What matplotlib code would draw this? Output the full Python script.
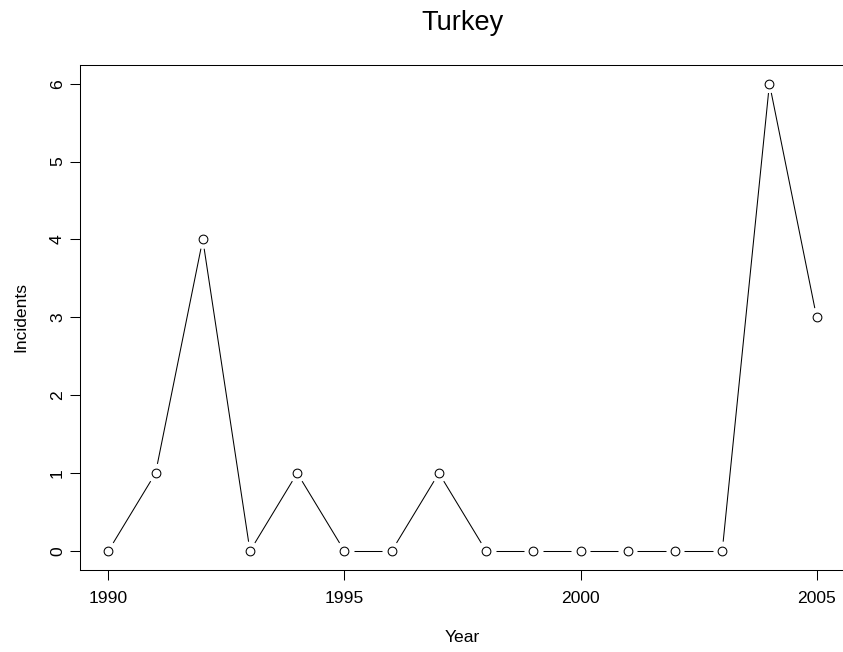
import numpy as np
import matplotlib
matplotlib.use("Agg")
import matplotlib.pyplot as plt
import matplotlib.transforms as mtransforms

plt.rcParams['font.family'] = ['Liberation Sans', 'DejaVu Sans']

# Data to be represented
years = [1990, 1991, 1992, 1993, 1994, 1995, 1996, 1997,
         1998, 1999, 2000, 2001, 2002, 2003, 2004, 2005]
incidents = [0, 1, 4, 0, 1, 0, 0, 1, 0, 0, 0, 0, 0, 0, 6, 3]
x_ticks = [1990, 1995, 2000, 2005]
y_ticks = [0, 1, 2, 3, 4, 5, 6]

W, H, DPI = 843, 652, 100
fig = plt.figure(figsize=(W / DPI, H / DPI), dpi=DPI, facecolor='white')
ax = fig.add_axes([80 / W, 1 - 569.7 / H, 765 / W, 504.7 / H])

# R-like 4% range extension
xr = years[-1] - years[0]
ax.set_xlim(years[0] - 0.04 * xr, years[-1] + 0.04 * xr)
yr = max(incidents) - min(incidents)
ax.set_ylim(min(incidents) - 0.04 * yr, max(incidents) + 0.04 * yr)

# type="b": segments with gaps around the points
gap = 9.4
pts = ax.transData.transform(np.column_stack([years, incidents]))
inv = ax.transData.inverted()
for p0, p1 in zip(pts[:-1], pts[1:]):
    d = p1 - p0
    L = np.hypot(*d)
    if L <= 2 * gap:
        continue
    u = d / L
    seg = inv.transform(np.array([p0 + gap * u, p1 - gap * u]))
    ax.plot(seg[:, 0], seg[:, 1], color='black', linewidth=0.75,
            solid_capstyle='butt')

ax.plot(years, incidents, linestyle='none', marker='o', markersize=6.3,
        markerfacecolor='white', markeredgecolor='black', markeredgewidth=0.75)

for s in ax.spines.values():
    s.set_linewidth(0.75)
# the box's right side falls just outside the picture
ax.spines['right'].set_visible(False)

ax.set_xticks(x_ticks)
ax.set_xticklabels([str(v) for v in x_ticks])
ax.set_yticks(y_ticks)
ax.set_yticklabels([str(v) for v in y_ticks])
ax.tick_params(axis='both', direction='out', length=7.2, width=0.75,
               labelsize=12.6)
ax.tick_params(axis='x', pad=7.9)
ax.tick_params(axis='y', pad=5.8)
for lab in ax.get_yticklabels():
    lab.set_rotation(90)
    lab.set_rotation_mode('anchor')
    lab.set_ha('center')
    lab.set_va('baseline')

blend = mtransforms.blended_transform_factory(ax.transAxes, fig.transFigure)
ax.text(0.5, 1 - 642 / H, 'Year', transform=blend, ha='center',
        va='baseline', fontsize=12.6)
ax.text(0.5, 1 - 30 / H, 'Turkey', transform=blend, ha='center',
        va='baseline', fontsize=19.5)
blend_y = mtransforms.blended_transform_factory(fig.transFigure, ax.transAxes)
ax.text(25 / W, 0.5, 'Incidents', transform=blend_y, ha='center',
        va='baseline', rotation=90, rotation_mode='anchor', fontsize=12.6)

fig.savefig('out.png', dpi=DPI, facecolor='white')
